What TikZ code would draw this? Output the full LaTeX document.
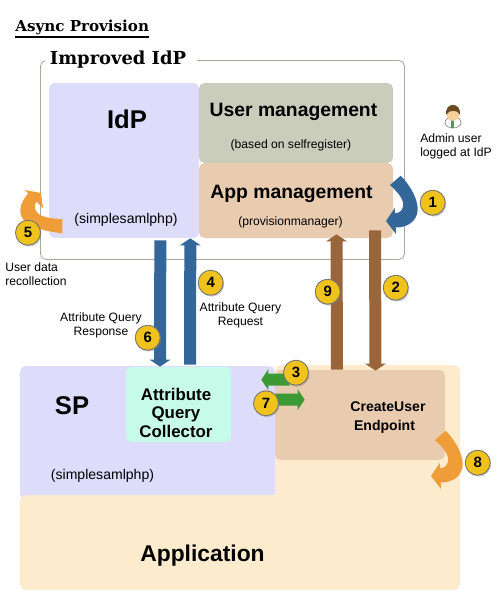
\documentclass[tikz,border=0pt]{standalone}
\usepackage{fontspec}
\setmainfont{Liberation Sans}
\newfontfamily\titlefont{DejaVu Serif}
\usetikzlibrary{arrows.meta,shadows}

\definecolor{idpblue}{HTML}{DDDCFB}
\definecolor{usergray}{HTML}{CBCDBC}
\definecolor{appbrown}{HTML}{E9CBB0}
\definecolor{appcream}{HTML}{FCEBCD}
\definecolor{collectgreen}{HTML}{C7FBE9}
\definecolor{frameline}{HTML}{ABA998}
\definecolor{flowblue}{HTML}{336699}
\definecolor{flowbrown}{HTML}{99663C}
\definecolor{flowgreen}{HTML}{3C9A35}
\definecolor{floworange}{HTML}{EF9D38}
\definecolor{badgefill}{HTML}{F0C21C}
\definecolor{skintone}{HTML}{F6CE9C}
\definecolor{hairbrown}{HTML}{6B4A22}

\begin{document}
\begin{tikzpicture}
		[x=0.02cm,y=-0.02cm,
		box/.style={rectangle,rounded corners=0.11cm,inner sep=0pt},
		flow/.style={line width=0.24cm,-{Triangle[length=0.14cm,width=0.41cm]}},
		badge/.style={circle,draw=black!55,fill=badgefill,line width=0.5pt,inner sep=0pt,minimum size=0.5cm,
			drop shadow={shadow xshift=0.6pt,shadow yshift=-0.8pt,opacity=0.4},font=\fontsize{8.5}{10}\selectfont\bfseries},
		small/.style={font=\fontsize{6.9}{8}\selectfont,inner sep=0pt},
		sub/.style={font=\fontsize{8}{9}\selectfont,inner sep=0pt},
		big/.style={font=\fontsize{14.6}{16}\selectfont\bfseries,inner sep=0pt},
		mgmt/.style={font=\fontsize{11}{13}\selectfont\bfseries,inner sep=0pt},
		pics/bentarrow/.style={code={
			\fill[#1] (0,0) -- (10.7,-9.3) .. controls (20,0) and (28,14) .. (27.7,25)
				.. controls (27,37) and (16,43) .. (5.7,42.3) -- (6,49) -- (-4,36) -- (5,22.7) -- (5,28.3)
				.. controls (12,28) and (14,22) .. (13,18) .. controls (12,11) and (5,5) .. (0,0) -- cycle;
		}}]
		\useasboundingbox (0,0) rectangle (500,600);

		% draw the title
		\node [font=\titlefont\fontsize{8.6}{10}\selectfont\bfseries,anchor=base west,inner sep=0pt] (title) at (15,31) {Async Provision};
		\draw [line width=0.6pt] (title.west |- 0,37) -- (title.east |- 0,37);

		% draw the frame of the improved idp
		\node [box,draw=frameline,line width=0.5pt,minimum width=7.28cm,minimum height=3.98cm] (frame) at (222.5,160) {};
		\node [font=\titlefont\fontsize{10.2}{12}\selectfont\bfseries,fill=white,inner xsep=0.1cm,inner ysep=1pt] (improved) at (121,60) {Improved IdP\hspace*{0.12cm}};

		% draw the idp boxes
		\node [box,fill=idpblue,minimum width=3cm,minimum height=3.1cm] (idp) at (124,160.5) {};
		\node [box,fill=usergray,minimum width=3.88cm,minimum height=1.6cm] (usermgmt) at (296,123) {};
		\node [box,fill=appbrown,minimum width=3.88cm,minimum height=1.5cm] (appmgmt) at (296,200.5) {};
		\node [big] (idplabel) at (127,119) {IdP};
		\node [sub] (idpsub) at (126,220) {(simplesamlphp)};
		\node [mgmt] (userlabel) at (293.5,112) {User management};
		\node [font=\fontsize{6.9}{8}\selectfont,inner sep=0pt] (usersub) at (291,145.5) {(based on selfregister)};
		\node [mgmt] (applabel) at (291.5,194) {App management};
		\node [font=\fontsize{6.9}{8}\selectfont,inner sep=0pt] (appsub) at (290.5,222) {(provisionmanager)};

		% draw the boxes of the sp and the application
		\node [box,fill=idpblue,minimum width=5.1cm,minimum height=2.68cm] (sp) at (147.5,433) {};
		\node [box,fill=appcream,minimum width=3.7cm,minimum height=2.9cm] (appupper) at (367.5,437.5) {};
		\node [box,fill=appcream,minimum width=8.8cm,minimum height=1.9cm] (application) at (240,542.5) {};
		\node [box,fill=appbrown,minimum width=3.4cm,minimum height=1.8cm] (createuser) at (360,415) {};
		\node [box,fill=collectgreen,minimum width=2.1cm,minimum height=1.5cm] (collector) at (178.5,404.5) {};
		\node [big] (splabel) at (72,405.5) {SP};
		\node [sub] (spsub) at (102.5,476) {(simplesamlphp)};
		\node [align=center,font=\fontsize{9.6}{10.8}\selectfont\bfseries,inner sep=0pt] (collectlabel) at (176,412.5) {Attribute\\[-0.5pt]Query\\Collector};
		\node [align=center,font=\fontsize{8}{10.5}\selectfont\bfseries,inner sep=0pt] (createlabel) at (388,417.5) {CreateUser\\Endpoint\hspace*{0.14cm}};
		\node [font=\fontsize{13}{15}\selectfont\bfseries,inner sep=0pt] (applabel2) at (202.5,556) {Application};

		% draw the admin user
		\draw [fill=white,draw=black!45,line width=0.4pt] (453,122.5) ellipse (8 and 5.5);
		\fill [green!45!black!70] (451.5,119) rectangle (454.5,128);
		\fill [skintone] (453,114.5) circle (6.3);
		\fill [hairbrown] (446,115) .. controls (444.5,101.5) and (461.5,101.5) .. (460,115) .. controls (458,109.5) and (449,109) .. (446,115) -- cycle;
		\node [small,align=left] (adminlabel) at (456,146.5) {Admin user\\[-0.3pt]logged at IdP};

		%draw the straight arrows
		\draw [flow,flowblue] ([shift={(-39,2)}]idp.south east) -- ([shift={(-18.5,0)}]collector.north);
		\draw [flow,flowblue] ([shift={(11.5,-2)}]collector.north) -- ([shift={(-9,0)}]idp.south east);
		\draw [flow,flowbrown] ([xshift=-0.46cm]createuser.north) -- ([shift={(40.5,-4)}]appmgmt.south);
		\draw [flow,flowbrown] ([shift={(79,-8)}]appmgmt.south) -- ([shift={(15.5,1)}]createuser.north);
		\draw [flow,flowgreen] ([shift={(15,10)}]createuser.north west) -- ([shift={(-14,14)}]sp.north east);
		\draw [flow,flowgreen] ([shift={(0,34)}]sp.north east) -- ([shift={(30,30)}]createuser.north west);

		%draw the bent arrows
		\pic at (390,185) {bentarrow=flowblue};
		\pic at (435,440) {bentarrow=floworange};
		\fill [floworange] (62.3,219.3) -- (62.3,233.3) .. controls (45,231) and (30,228) .. (23,219)
			.. controls (18,212) and (20,203) .. (28,193.5) -- (25,190) -- (41,193) -- (43,208) -- (36.5,201.5)
			.. controls (33,206) and (35,212) .. (40,215) .. controls (46,218) and (54,218.5) .. (62.3,219.3) -- cycle;

		% draw the labels of the arrows
		\node [small,align=left,anchor=west] (recollect) at (5,274.5) {User data\\recollection};
		\node [small,align=center] (response) at (101,325) {Attribute Query\\Response};
		\node [small,align=center] (request) at (240.5,315) {Attribute Query\\Request};

		% draw the numbers
		\node [badge] (one) at (432.7,202.7) {1};
		\node [badge] (two) at (395.7,287.7) {2};
		\node [badge] (three) at (296,372.7) {3};
		\node [badge] (four) at (210.7,282.7) {4};
		\node [badge] (five) at (28,232.7) {5};
		\node [badge] (six) at (147.7,337.7) {6};
		\node [badge] (seven) at (266,403.3) {7};
		\node [badge] (eight) at (477.7,462.7) {8};
		\node [badge] (nine) at (327.7,291.7) {9};
	\end{tikzpicture}
\end{document}
